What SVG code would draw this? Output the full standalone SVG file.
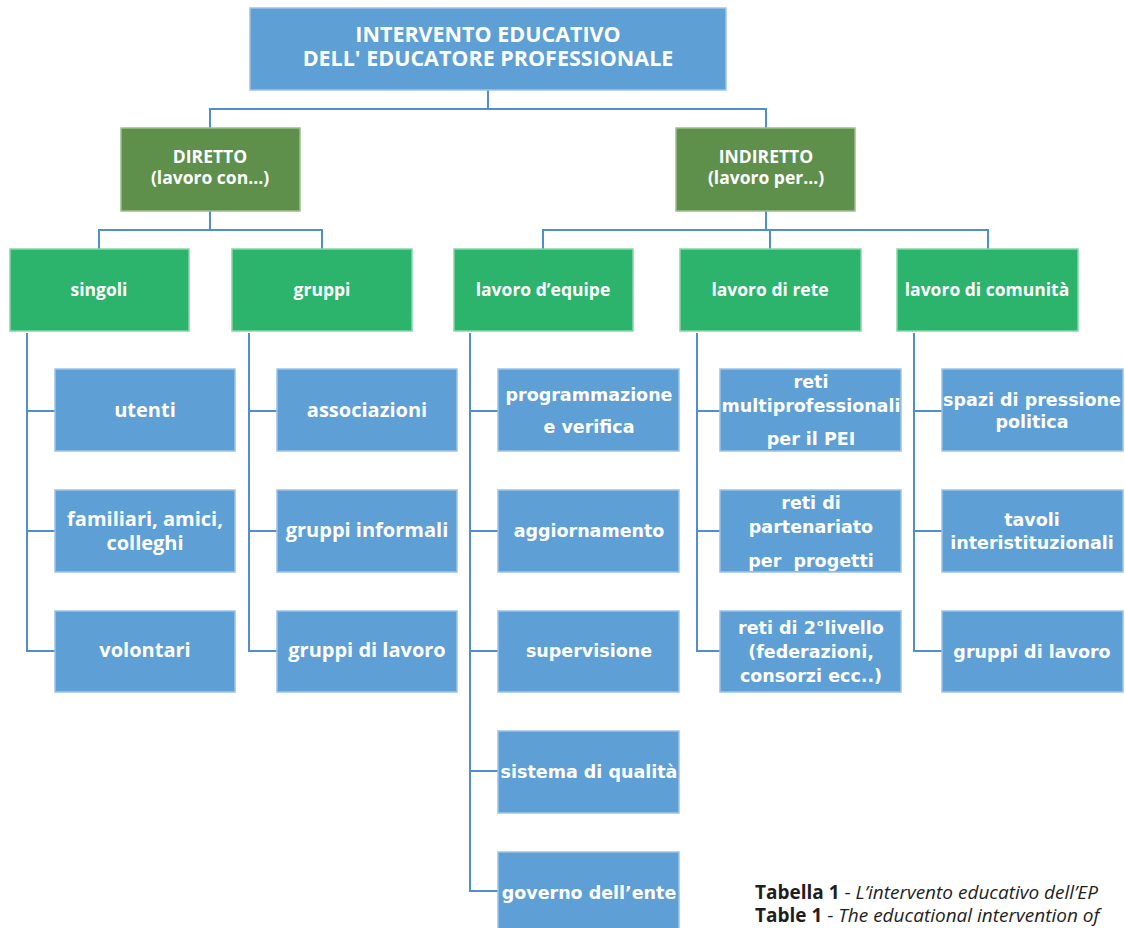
<svg xmlns="http://www.w3.org/2000/svg" width="1125" height="928" viewBox="0 0 1125 928">
<style>
.blue{fill:#5e9fd6;stroke:#9cc4e8;stroke-width:1.5}
.dg{fill:#5e904b;stroke:#9cc08c;stroke-width:1.5}
.lg{fill:#2cb46c;stroke:#86d6a8;stroke-width:1.5}
.os{font-family:"Open Sans","Noto Sans","DejaVu Sans",sans-serif;font-weight:bold;fill:#fff;text-anchor:middle}
.dv{font-family:"DejaVu Sans","Verdana",sans-serif;font-weight:bold;fill:#fff;text-anchor:middle;font-size:17.5px}
.t{font-size:21.5px}
.m{font-size:17.5px}
.s{font-size:20px}
.con{fill:none;stroke:#4f8fcf;stroke-width:2}
.cap{font-family:"Open Sans","Noto Sans",sans-serif;font-size:19px;fill:#1e1e1e}
</style>
<rect width="1125" height="928" fill="#fff"/>
<g id="connectors">
<path class="con" d="M488 90V109M210 128V109H766V128"/>
<path class="con" d="M210 211V230M99 249V230H322V249"/>
<path class="con" d="M766 211V230M543 249V230H988V249M770 230V249"/>
<path class="con" d="M27 333V651H55M27 411H55M27 531H55"/>
<path class="con" d="M249 333V651H277M249 411H277M249 531H277"/>
<path class="con" d="M470 333V891H498M470 411H498M470 531H498M470 651H498M470 771H498"/>
<path class="con" d="M697 333V651H720M697 411H720M697 531H720"/>
<path class="con" d="M914 333V651H942M914 411H942M914 531H942"/>
</g>
<g id="root"><rect class="blue" x="250" y="8" width="476" height="82"/>
<text class="os t"><tspan x="488" y="42">INTERVENTO EDUCATIVO</tspan><tspan x="488" y="66">DELL' EDUCATORE PROFESSIONALE</tspan></text></g>
<g id="diretto"><rect class="dg" x="121" y="128" width="179" height="83"/>
<text class="os m"><tspan x="210" y="163">DIRETTO</tspan><tspan x="210" y="184">(lavoro con...)</tspan></text></g>
<g id="indiretto"><rect class="dg" x="676" y="128" width="179" height="83"/>
<text class="os m"><tspan x="766" y="163">INDIRETTO</tspan><tspan x="766" y="184">(lavoro per...)</tspan></text></g>
<g id="singoli"><rect class="lg" x="10" y="249" width="179" height="82"/><text class="os m" x="99" y="296">singoli</text></g>
<g id="gruppi"><rect class="lg" x="232" y="249" width="180" height="82"/><text class="os m" x="322" y="296">gruppi</text></g>
<g id="equipe"><rect class="lg" x="454" y="249" width="179" height="82"/><text class="os m" x="543" y="296">lavoro d’equipe</text></g>
<g id="rete"><rect class="lg" x="680" y="249" width="181" height="82"/><text class="os m" x="770" y="296">lavoro di rete</text></g>
<g id="comunita"><rect class="lg" x="897" y="249" width="181" height="82"/><text class="os m" x="987" y="296">lavoro di comunità</text></g>

<g id="utenti"><rect class="blue" x="55" y="369" width="180" height="82"/><text class="os s" x="145" y="417">utenti</text></g>
<g id="familiari"><rect class="blue" x="55" y="490" width="180" height="82"/><text class="os s"><tspan x="145" y="526">familiari, amici,</tspan><tspan x="145" y="550">colleghi</tspan></text></g>
<g id="volontari"><rect class="blue" x="55" y="611" width="180" height="81"/><text class="os s" x="145" y="657">volontari</text></g>

<g id="associazioni"><rect class="blue" x="277" y="369" width="180" height="82"/><text class="os s" x="367" y="417">associazioni</text></g>
<g id="informali"><rect class="blue" x="277" y="490" width="180" height="82"/><text class="os s" x="367" y="537">gruppi informali</text></g>
<g id="gruppilavoro1"><rect class="blue" x="277" y="611" width="180" height="81"/><text class="os s" x="367" y="657">gruppi di lavoro</text></g>

<g id="programmazione"><rect class="blue" x="498" y="369" width="181" height="82"/><text class="dv"><tspan x="589" y="401">programmazione</tspan><tspan x="589" y="433">e verifica</tspan></text></g>
<g id="aggiornamento"><rect class="blue" x="498" y="490" width="181" height="82"/><text class="dv" x="589" y="537">aggiornamento</text></g>
<g id="supervisione"><rect class="blue" x="498" y="611" width="181" height="81"/><text class="dv" x="589" y="657">supervisione</text></g>
<g id="qualita"><rect class="blue" x="498" y="731" width="181" height="82"/><text class="dv" x="589" y="778">sistema di qualità</text></g>
<g id="governo"><rect class="blue" x="498" y="852" width="181" height="82"/><text class="dv" x="589" y="899">governo dell’ente</text></g>

<g id="multi"><rect class="blue" x="720" y="369" width="181" height="82"/><text class="dv"><tspan x="811" y="388">reti</tspan><tspan x="811" y="412">multiprofessionali</tspan><tspan x="811" y="445">per il PEI</tspan></text></g>
<g id="partenariato"><rect class="blue" x="720" y="490" width="181" height="82"/><text class="dv" xml:space="preserve"><tspan x="811" y="509">reti di</tspan><tspan x="811" y="533">partenariato</tspan><tspan x="811" y="567">per  progetti</tspan></text></g>
<g id="livello"><rect class="blue" x="720" y="611" width="181" height="81"/><text class="dv"><tspan x="811" y="634">reti di 2°livello</tspan><tspan x="811" y="658">(federazioni,</tspan><tspan x="811" y="682">consorzi ecc..)</tspan></text></g>

<g id="pressione"><rect class="blue" x="942" y="369" width="181" height="82"/><text class="dv"><tspan x="1032" y="406">spazi di pressione</tspan><tspan x="1032" y="428">politica</tspan></text></g>
<g id="tavoli"><rect class="blue" x="942" y="490" width="181" height="82"/><text class="dv"><tspan x="1032" y="526">tavoli</tspan><tspan x="1032" y="549">interistituzionali</tspan></text></g>
<g id="gruppilavoro2"><rect class="blue" x="942" y="611" width="181" height="81"/><text class="dv" x="1032" y="658">gruppi di lavoro</text></g>

<g id="caption">
<text class="cap"><tspan x="755" y="899"><tspan font-weight="bold">Tabella 1</tspan> - <tspan font-style="italic">L’intervento educativo dell’EP</tspan></tspan><tspan x="755" y="922"><tspan font-weight="bold">Table 1</tspan> - <tspan font-style="italic">The educational intervention of</tspan></tspan></text>
</g>
</svg>
